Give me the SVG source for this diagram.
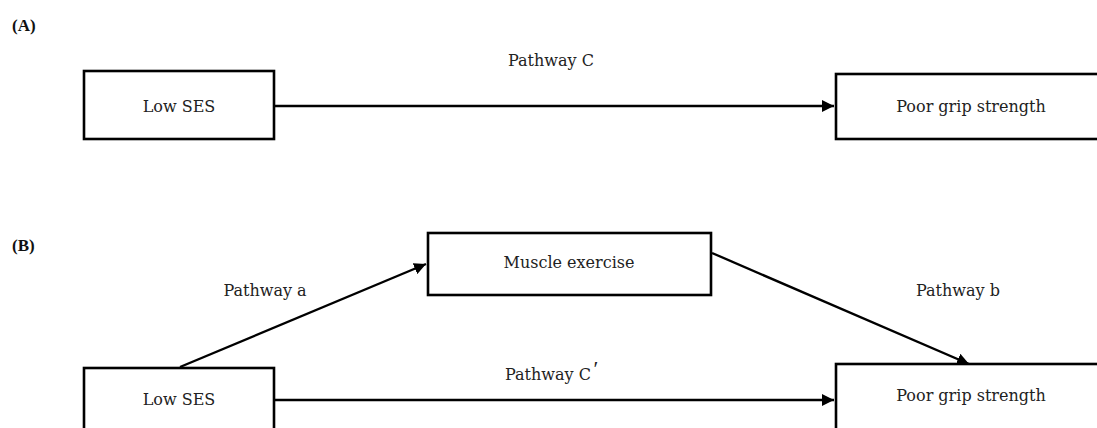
<svg xmlns="http://www.w3.org/2000/svg" width="1097" height="428" viewBox="0 0 1097 428">
<style>
.box{fill:#fff;stroke:#000;stroke-width:2.6}
.t{font-family:"DejaVu Serif","Liberation Serif",serif;font-size:16px;fill:#222;text-anchor:middle}
.lbl{font-family:"Liberation Serif","DejaVu Serif",serif;font-size:17px;font-weight:bold;fill:#111}
.c{stroke:#000;stroke-width:2.4;fill:none}
</style>
<defs>
<marker id="ah" viewBox="0 0 10 10" refX="10" refY="5" markerWidth="12" markerHeight="12" markerUnits="userSpaceOnUse" orient="auto">
<path d="M0,0 L10,5 L0,10 z" fill="#000"/>
</marker>
</defs>
<rect width="1097" height="428" fill="#fff"/>
<text class="lbl" x="12" y="31">(A)</text>
<text class="lbl" x="12" y="251">(B)</text>
<g id="connectors">
<line class="c" x1="275" y1="106" x2="834" y2="106" marker-end="url(#ah)"/>
<line class="c" x1="180" y1="367" x2="426" y2="264" marker-end="url(#ah)"/>
<line class="c" x1="712" y1="253" x2="969" y2="364" marker-end="url(#ah)"/>
<line class="c" x1="275" y1="400" x2="834" y2="400" marker-end="url(#ah)"/>
<text class="t" x="551" y="66">Pathway C</text>
<text class="t" x="265" y="296">Pathway a</text>
<text class="t" x="958" y="296">Pathway b</text>
<text class="t" x="548" y="380">Pathway C</text>
<text class="t" x="596" y="376" style="font-size:22px;font-family:'Liberation Serif',serif">′</text>
</g>
<g id="a-low-ses">
<rect class="box" x="84" y="71" width="190" height="68"/>
<text class="t" x="179" y="112">Low SES</text>
</g>
<g id="a-poor-grip">
<rect class="box" x="836" y="74" width="280" height="65"/>
<text class="t" x="971" y="112">Poor grip strength</text>
</g>
<g id="b-muscle">
<rect class="box" x="428" y="233" width="283" height="62"/>
<text class="t" x="569" y="268">Muscle exercise</text>
</g>
<g id="b-low-ses">
<rect class="box" x="84" y="368" width="190" height="80"/>
<text class="t" x="179" y="405">Low SES</text>
</g>
<g id="b-poor-grip">
<rect class="box" x="836" y="364" width="280" height="80"/>
<text class="t" x="971" y="401">Poor grip strength</text>
</g>
</svg>
